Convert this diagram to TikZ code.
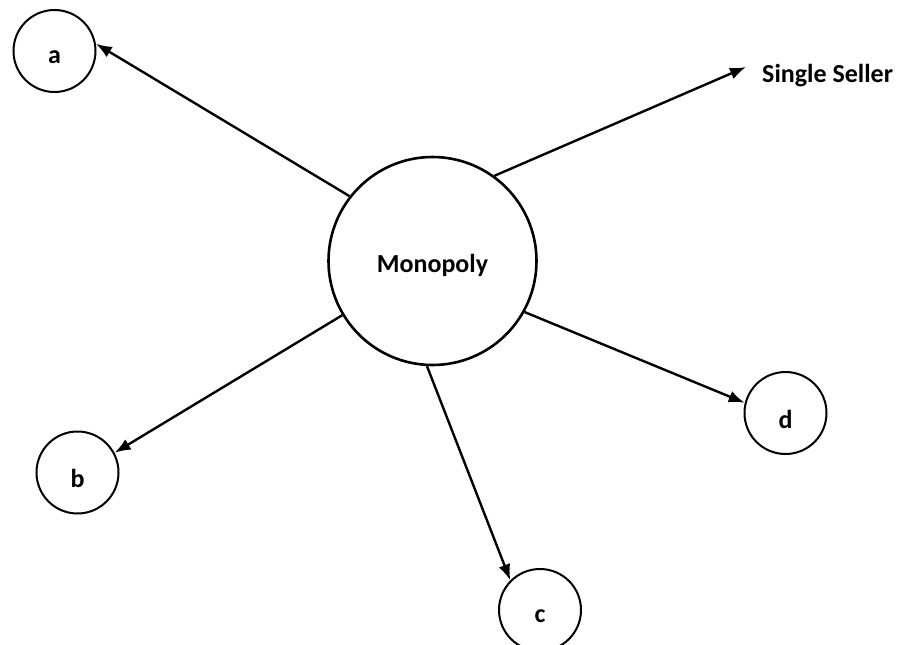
\documentclass[tikz,border=0pt]{standalone}
\usepackage{fontspec}
\setmainfont{Carlito}
\usetikzlibrary{arrows.meta}
\begin{document}
\begin{tikzpicture}[x=1pt,y=-1pt,
  txt/.style={font=\fontsize{26}{30}\selectfont\bfseries,inner sep=0pt},
  lbl/.style={txt,yshift=-6pt},
  bubble/.style={circle,draw,line width=2pt,minimum size=82pt,inner sep=0pt},
  hub/.style={circle,draw,line width=2.6pt,minimum size=208pt,inner sep=0pt},
  link/.style={line width=2.4pt,-{Latex[length=16pt,width=12pt]}}]
\useasboundingbox (0,0) rectangle (903,645);
\node[hub,label={[txt,yshift=-4pt]center:Monopoly}] (m) at (432.5,261) {};
\node[bubble,label={[lbl]center:a}] (a) at (54.5,51) {};
\node[bubble,label={[lbl]center:b}] (b) at (77.5,472.5) {};
\node[bubble,label={[lbl]center:c}] (c) at (540,610) {};
\node[bubble,label={[lbl]center:d}] (d) at (785.5,413) {};
\node[txt,anchor=west] (ss) at (762,76) {Single Seller};
\coordinate (sst) at (746,67);
\draw[link] (m.142) -- (a.10);
\draw[link] (m.54) -- (sst);
\draw[link] (m.211) -- (b.28);
\draw[link] (m.267) -- (c.135);
\draw[link] (m.-29) -- (d.166);
\end{tikzpicture}
\end{document}
